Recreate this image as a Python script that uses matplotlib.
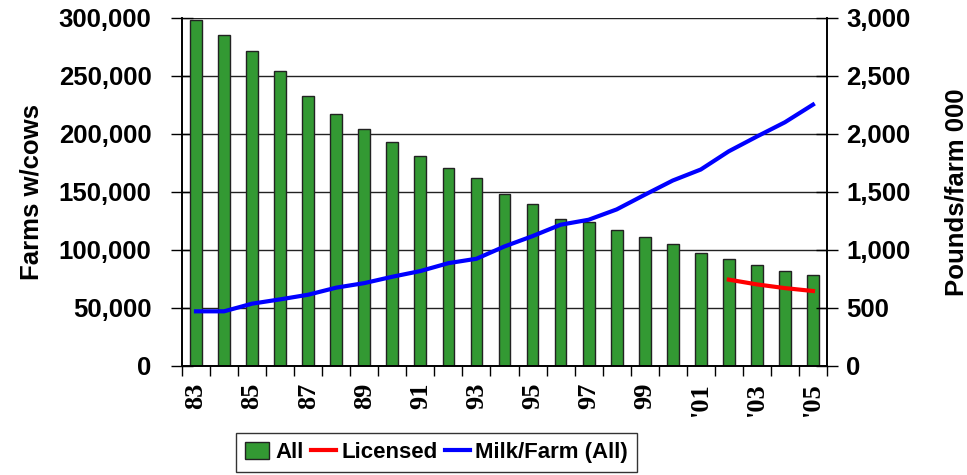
import numpy as np
import matplotlib
matplotlib.use("Agg")
import matplotlib.pyplot as plt
from matplotlib.ticker import FuncFormatter, MultipleLocator, FixedLocator
from matplotlib.lines import Line2D
from matplotlib.patches import Patch

# data
years = list(range(1983, 2006))
farms_all = [298000, 285400, 271100, 254200, 232700, 216900, 204600, 193400,
             181300, 171000, 162400, 148400, 140000, 126800, 123900, 117400,
             111000, 105000, 97600, 92400, 86700, 81800, 78000]
licensed_years = [2002, 2003, 2004, 2005]
farms_licensed = [74400, 70300, 67100, 64600]
milk_per_farm = [471, 471, 537, 574, 614, 675, 714, 769, 818, 886, 924, 1030,
                 1119, 1217, 1260, 1349, 1475, 1598, 1693, 1850, 1977, 2100, 2252]

def year_label(y):
    return "'%02d" % (y % 100) if y >= 2000 else "%02d" % (y % 100)

plt.rcParams['font.family'] = ['Liberation Sans', 'DejaVu Sans']
plt.rcParams['font.weight'] = 'bold'

fig = plt.figure(figsize=(9.67, 4.75), dpi=100)
ax = fig.add_axes([0.1882, 0.2295, 0.6670, 0.7330])
ax2 = ax.twinx()

x = np.arange(len(years))
ax.bar(x, farms_all, width=0.42, color='#339933', edgecolor='#222222',
       linewidth=1.0, zorder=2)
lic_x = [years.index(y) for y in licensed_years]
ax2.plot(lic_x, [v / 100 for v in farms_licensed], color='#ff0000', lw=3, zorder=3)
ax2.plot(x, milk_per_farm, color='#0000ff', lw=3, zorder=3)

ax.set_xlim(-0.5, len(years) - 0.5)
ax.set_ylim(0, 300000)
ax2.set_ylim(0, 3000)

ax.yaxis.set_major_locator(MultipleLocator(50000))
ax2.yaxis.set_major_locator(MultipleLocator(500))
ax.yaxis.set_major_formatter(FuncFormatter(lambda v, p: f"{int(v):,}"))
ax2.yaxis.set_major_formatter(FuncFormatter(lambda v, p: f"{int(v):,}"))
ax.grid(axis='y', color='#222222', lw=1.0)
ax.set_axisbelow(True)

ax.spines['top'].set_visible(False)
ax2.spines['top'].set_visible(False)
for a in (ax, ax2):
    for s in a.spines.values():
        s.set_linewidth(1.2)
        s.set_color('black')

ax.tick_params(axis='y', direction='inout', length=16, width=1.0, pad=14,
               labelsize=18.5)
ax2.tick_params(axis='y', direction='inout', length=16, width=1.0, pad=6,
                labelsize=18.5)

# x ticks: boundaries as small ticks, labels every other year
ax.xaxis.set_major_locator(FixedLocator(x[::2]))
ax.set_xticklabels([year_label(y) for y in years[::2]], rotation=90,
                   fontfamily=['Liberation Serif'], fontweight='bold', fontsize=19)
ax.tick_params(axis='x', which='major', length=0, pad=12)
ax.xaxis.set_minor_locator(FixedLocator(np.arange(-0.5, len(years), 1.0)))
ax.tick_params(axis='x', which='minor', direction='out', length=7, width=1.0)

ax.set_ylabel('Farms w/cows', fontsize=18.5, fontweight='bold', labelpad=11)
ax2.set_ylabel('Pounds/farm 000', fontsize=18.5, fontweight='bold', labelpad=24)

handles = [Patch(facecolor='#339933', edgecolor='#222222', label='All'),
           Line2D([], [], color='#ff0000', lw=3, label='Licensed'),
           Line2D([], [], color='#0000ff', lw=3, label='Milk/Farm (All)')]
fig.legend(handles=handles, loc='upper center', bbox_to_anchor=(0.4514, 0.0884),
           ncol=3, frameon=True, fancybox=False, edgecolor='black',
           prop={'weight': 'bold', 'size': 16}, handlelength=1.1,
           handleheight=0.8, handletextpad=0.25, columnspacing=0.35,
           borderpad=0.4, borderaxespad=0)

fig.savefig('out.png', dpi=100)
